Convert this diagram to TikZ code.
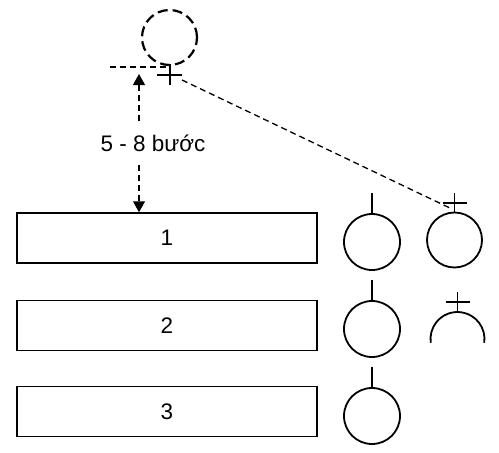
\documentclass[tikz,border=0pt]{standalone}
\usepackage{fontspec}
\setmainfont{Liberation Sans}
\usetikzlibrary{arrows.meta}

\begin{document}
\begin{tikzpicture}[x=1pt, y=-1pt,
  every node/.style={font=\fontsize{22.5}{26}\selectfont},
  slot/.style={draw, line width=1.5pt, minimum width=300pt, minimum height=50pt, inner sep=0pt},
  ball/.style={circle, draw, line width=1.8pt, minimum size=56pt, inner sep=0pt},
  stem/.style={line width=1.8pt},
  guide/.style={dash pattern=on 6pt off 4pt, line width=1.3pt}]
\useasboundingbox (0,0) rectangle (499,453);
% slots
\node[slot] (S1) at (167,238) {1};
\node[slot] (S2) at (167,325.5) {2};
\node[slot] (S3) at (167,411.5) {3};
% balls in the first column
\node[ball] (B1) at (372,242) {};
\node[ball] (B2) at (372,329) {};
\node[ball] (B3) at (372,416) {};
\draw[stem] (B1.north) -- ++(0,-20);
\draw[stem] (B2.north) -- ++(0,-20);
\draw[stem] (B3.north) -- ++(0,-20);
% ball and half ball with plus
\node[ball, minimum size=55pt] (P1) at (454.5,240) {};
\draw[stem] (P1.north) -- ++(0,-19);
\draw[stem] ([shift={(-12,-9)}]P1.north) -- ++(24,0);
\coordinate (H1) at (457.5,339);
\draw[stem] ([shift={(8:27)}]H1) arc[start angle=8, end angle=-188, radius=27];
\draw[stem] ([shift={(0,-27)}]H1) -- ++(0,-20);
\draw[stem] ([shift={(-12,-37)}]H1) -- ++(24,0);
% ghost ball on top
\node[ball, line width=2.2pt, dash pattern=on 10pt off 5pt, minimum size=55pt] (G) at (169.5,37.5) {};
\coordinate (L0) at (110,67);
\coordinate (L1) at (167,67);
\draw[guide] (L0) -- (L1);
\coordinate (Q) at (170,75);
\draw[stem] ([shift={(0,-11)}]Q) -- ++(0,21);
\draw[stem] ([shift={(-13,0)}]Q) -- ++(25,0);
\coordinate (D0) at (182,80);
\coordinate (D1) at (452,209);
\draw[guide] (D0) -- (D1);
% distance
\coordinate (A0) at (139,74);
\draw[guide, {Triangle[length=11pt,width=12pt]}-{Triangle[length=11pt,width=12pt]}] (A0) -- (A0 |- S1.north);
\node[fill=white, inner sep=0pt, minimum height=39pt] (lbl) at (153,143) {5 - 8 bước};
\end{tikzpicture}
\end{document}
